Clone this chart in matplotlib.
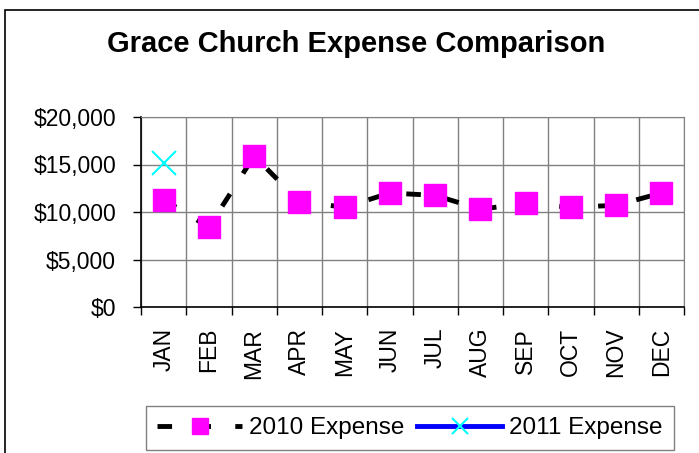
import numpy as np
import matplotlib.pyplot as plt
from matplotlib.patches import Rectangle
from matplotlib.ticker import FuncFormatter

plt.rcParams['font.family'] = ['Liberation Sans', 'DejaVu Sans']

# 数据
months = ['JAN', 'FEB', 'MAR', 'APR', 'MAY', 'JUN', 'JUL', 'AUG', 'SEP', 'OCT', 'NOV', 'DEC']
expense_2010 = [11300, 8400, 15900, 11100, 10500, 12000, 11750, 10300, 10900, 10500, 10700, 12000]
expense_2011 = [15200]

fig = plt.figure(figsize=(6.99, 4.53), dpi=100)
ax = fig.add_axes([141 / 699, 1 - 307 / 453, 543 / 699, 190 / 453])

x = np.arange(len(months))
ax.plot(x, expense_2010, color='black', linestyle=(0, (3, 5)), linewidth=3.5,
        marker='s', markersize=16, markerfacecolor='#FF00FF', markeredgecolor='#FF00FF',
        label='2010 Expense', zorder=3)
ax.plot(x[:len(expense_2011)], expense_2011, color='#0000FF', linewidth=3.5,
        marker='x', markersize=17, markeredgewidth=1.5, markeredgecolor='#00FFFF',
        label='2011 Expense', zorder=4)

# 坐标轴
ax.set_xlim(-0.5, len(months) - 0.5)
ax.set_ylim(0, 20000)
ax.set_yticks([0, 5000, 10000, 15000, 20000])
ax.yaxis.set_major_formatter(FuncFormatter(lambda v, p: '${:,.0f}'.format(v)))
ax.set_xticks(x)
ax.set_xticklabels(months, rotation=90, fontsize=16.5)
ax.set_xticks(np.arange(-0.5, len(months)), minor=True)
ax.tick_params(axis='x', which='major', length=0, pad=15)
ax.tick_params(axis='x', which='minor', length=6, width=1, direction='out')
ax.tick_params(axis='y', labelsize=16.5, length=6, width=1, pad=12, direction='out')

# 网格
ax.grid(True, which='minor', axis='x', color='#808080', linewidth=1)
ax.grid(True, which='major', axis='y', color='#808080', linewidth=1)
ax.set_axisbelow(True)
for s in ['top', 'right']:
    ax.spines[s].set_color('#808080')
for s in ['left', 'bottom']:
    ax.spines[s].set_color('black')
    ax.spines[s].set_linewidth(1.2)

fig.text(356 / 699, 1 - 52 / 453, 'Grace Church Expense Comparison',
         ha='center', va='baseline', fontsize=21, fontweight='bold')

leg = fig.legend(loc='center', bbox_to_anchor=(410 / 699, 1 - 428 / 453), ncol=2,
                 fontsize=17.5, handlelength=3.5, columnspacing=0.5, handletextpad=0.3,
                 markerscale=0.7, fancybox=False, edgecolor='#808080', framealpha=1,
                 borderpad=0.45, borderaxespad=0)
leg.get_frame().set_linewidth(1)

# 外框
fig.patches.append(Rectangle((5 / 699, -0.1), 1.2, 1.1 - 10 / 453, transform=fig.transFigure,
                             fill=False, edgecolor='black', linewidth=1.2))

fig.savefig('out.png', dpi=100)
